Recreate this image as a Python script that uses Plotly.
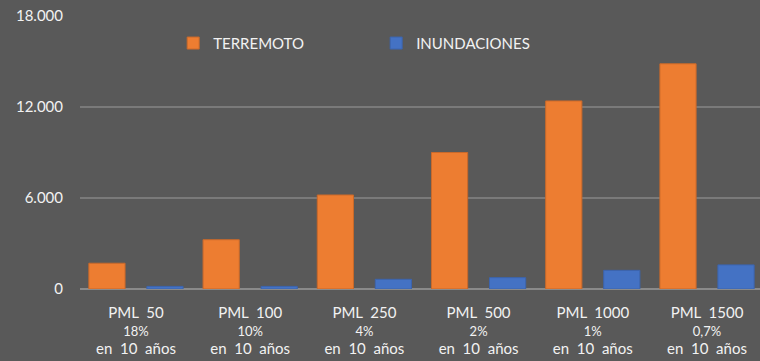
import plotly.graph_objects as go

# Probable maximum loss scenarios and their probability of exceedance in 10 years
scenarios = ["PML 50", "PML 100", "PML 250", "PML 500", "PML 1000", "PML 1500"]
periods = ["50", "100", "250", "500", "1000", "1500"]
probabilities = ["18%", "10%", "4%", "2%", "1%", "0,7%"]

terremoto = [1700, 3250, 6200, 9000, 12400, 14850]
inundaciones = [170, 170, 640, 750, 1230, 1590]

SP = " \u00a0"  # wide gap between words
tick_labels = [
    f"<span style='font-size:15px'>PML{SP}{p}</span><br>"
    f"<span style='font-size:13px'>{q}</span><br>"
    f"<span style='font-size:15px'>en{SP}10{SP}años</span>"
    for p, q in zip(periods, probabilities)
]

ORANGE = "#ED7D31"
BLUE = "#4472C4"
BG = "#595959"
TEXT = "#F2F2F2"
GRID = "#7A7A7A"

BAR_W = 0.317

fig = go.Figure()
fig.add_trace(go.Bar(
    name="TERREMOTO", x=scenarios, y=terremoto,
    width=BAR_W, offset=-0.4125,
    marker=dict(color=ORANGE, line=dict(color="#C9692A", width=1)),
))
fig.add_trace(go.Bar(
    name="INUNDACIONES", x=scenarios, y=inundaciones,
    width=BAR_W, offset=0.0955,
    marker=dict(color=BLUE, line=dict(color="#3C64AD", width=1)),
))

fig.update_layout(
    width=760, height=361,
    margin=dict(l=80, r=0, t=16, b=72),
    paper_bgcolor=BG, plot_bgcolor=BG,
    font=dict(family="Lato", size=15, color=TEXT),
    separators=",.",
    barmode="overlay",
    showlegend=True,
    legend=dict(
        orientation="h", x=0.137, y=0.90, xanchor="left", yanchor="middle",
        bgcolor="rgba(0,0,0,0)", font=dict(size=15, color=TEXT),
        entrywidth=158, entrywidthmode="pixels", itemwidth=30,
    ),
)
fig.update_xaxes(
    tickmode="array", tickvals=scenarios, ticktext=tick_labels,
    range=[-0.49, 5.464],
    showgrid=False, showline=False, ticks="", tickangle=0,
    tickfont=dict(size=14, color=TEXT), ticklabelstandoff=14,
)
fig.update_yaxes(
    range=[0, 18000], tickvals=[0, 6000, 12000, 18000], tickformat=",d",
    showgrid=True, gridcolor=GRID, gridwidth=2,
    zeroline=True, zerolinecolor="#8A8A8A", zerolinewidth=2,
    showline=False, ticks="", ticklabelstandoff=16,
    tickfont=dict(size=15, color=TEXT),
)

fig.write_html("out.html")
